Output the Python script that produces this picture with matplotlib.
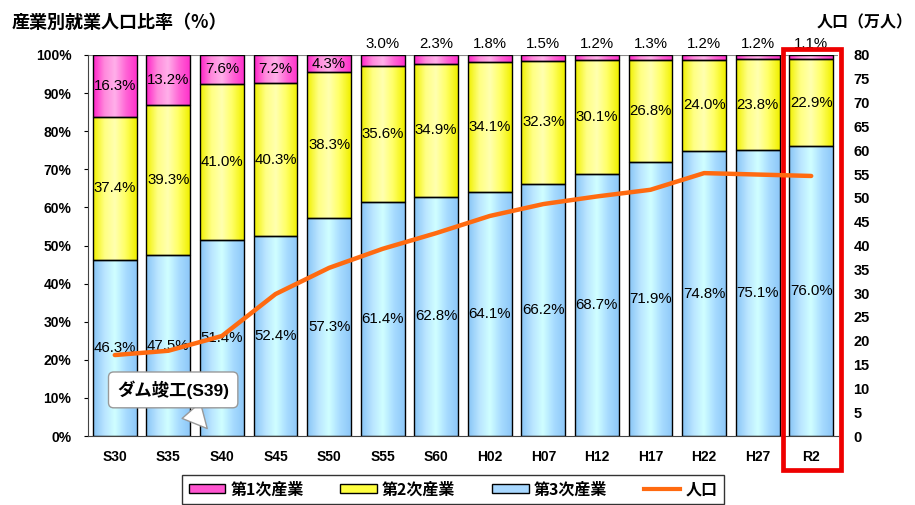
import numpy as np
import matplotlib
matplotlib.use("Agg")
import matplotlib.pyplot as plt
from matplotlib.patches import Rectangle, Patch
from matplotlib.lines import Line2D
from matplotlib.colors import LinearSegmentedColormap

plt.rcParams['font.family'] = ['Liberation Sans', 'Noto Sans CJK JP', 'DejaVu Sans']

years = ["S30", "S35", "S40", "S45", "S50", "S55", "S60", "H02", "H07", "H12", "H17", "H22", "H27", "R2"]
primary = [16.3, 13.2, 7.6, 7.2, 4.3, 3.0, 2.3, 1.8, 1.5, 1.2, 1.3, 1.2, 1.2, 1.1]
secondary = [37.4, 39.3, 41.0, 40.3, 38.3, 35.6, 34.9, 34.1, 32.3, 30.1, 26.8, 24.0, 23.8, 22.9]
tertiary = [46.3, 47.5, 51.4, 52.4, 57.3, 61.4, 62.8, 64.1, 66.2, 68.7, 71.9, 74.8, 75.1, 76.0]
population = [17.0, 17.9, 21.0, 29.8, 35.3, 39.3, 42.6, 46.2, 48.7, 50.3, 51.7, 55.2, 54.9, 54.6]

legend_labels = ["第1次産業", "第2次産業", "第3次産業", "人口"]

fig = plt.figure(figsize=(9.15, 5.05), dpi=100)
ax = fig.add_axes([88/915, 1-436/505, 750/915, 381/505])
ax2 = ax.twinx()

x = np.arange(len(years))
w = 0.82
p3 = np.array(tertiary)
p2 = np.array(secondary)
p1 = np.array(primary)

grad = {
    'p': (["#ff22c8", "#ff88dc", "#ffb0ea", "#ff66d6", "#ff33cc"]),
    'y': (["#f0f000", "#ffff80", "#ffffb0", "#ffff60", "#f0f000"]),
    'b': (["#88c4f6", "#b8e4ff", "#d0ffff", "#a8dcff", "#8ec8f8"]),
}
solid = {'p': "#ff55d0", 'y': "#ffff40", 'b': "#a8d8ff"}

def gbars(vals, bottom, key):
    bars = ax.bar(x, vals, w, bottom=bottom, facecolor='none', edgecolor='black', linewidth=1.0, zorder=3)
    cmap = LinearSegmentedColormap.from_list(key, grad[key])
    g = np.linspace(0, 1, 64).reshape(1, -1)
    for b in bars:
        x0, y0 = b.get_x(), b.get_y()
        im = ax.imshow(g, cmap=cmap, extent=[x0, x0 + b.get_width(), y0, y0 + b.get_height()],
                       aspect='auto', zorder=2, interpolation='bilinear')
        im.set_clip_path(b)
    return bars

gbars(p3, 0, 'b')
gbars(p2, p3, 'y')
gbars(p1, p3 + p2, 'p')

ax.set_xlim(-0.5, len(years) - 0.5)
ax.set_ylim(0, 100)
ax.set_aspect('auto')

fs = 10.8
for i in range(len(years)):
    ax.text(x[i], p3[i] / 2, f"{tertiary[i]:.1f}%", ha='center', va='center', fontsize=fs, zorder=5)
    ax.text(x[i], p3[i] + p2[i] / 2, f"{secondary[i]:.1f}%", ha='center', va='center', fontsize=fs, zorder=5)
    if primary[i] >= 4:
        ax.text(x[i], p3[i] + p2[i] + p1[i] / 2, f"{primary[i]:.1f}%", ha='center', va='center', fontsize=fs, zorder=5)
    else:
        ax.text(x[i], 102.8, f"{primary[i]:.1f}%", ha='center', va='center', fontsize=fs, zorder=5, clip_on=False)

ax.set_yticks(np.arange(0, 101, 10))
ax.set_yticklabels([f"{v}%" for v in range(0, 101, 10)], fontsize=10, fontweight='bold')
ax.set_xticks(x)
ax.set_xticklabels(years, fontsize=10, fontweight='bold')
ax.tick_params(axis='x', length=0, pad=10)
ax.tick_params(axis='y', length=3, direction='out', pad=9)
for s in ['top', 'right']:
    ax.spines[s].set_visible(False)
ax.spines['left'].set_color('#444444')
ax.spines['bottom'].set_color('#444444')
ax.axhline(100, color='#888888', lw=0.8, zorder=1)

ax2.plot(x, population, color='#ff6a10', lw=3.2, zorder=6, solid_capstyle='round')
ax2.set_ylim(0, 80)
ax2.set_yticks(np.arange(0, 81, 5))
ax2.set_yticklabels([str(v) for v in range(0, 81, 5)], fontsize=10.5, fontweight='bold')
ax2.tick_params(axis='y', length=0, pad=11)
for s in ['top', 'right', 'left', 'bottom']:
    ax2.spines[s].set_visible(False)

# red highlight box around R2
ax.add_patch(Rectangle((12.47, -8.9), 1.08, 110.5, fill=False, edgecolor='#ee0000', lw=3.4,
                       clip_on=False, zorder=7))

# callout
ax.annotate("ダム竣工(S39)", xy=(1.76, 1.4), xytext=(1.09, 12.1), ha='center', va='center',
            fontsize=12.5, fontweight='bold', zorder=8,
            bbox=dict(boxstyle='round,pad=0.5,rounding_size=0.3', fc='white', ec='#999999', lw=1),
            arrowprops=dict(arrowstyle='wedge,tail_width=1.4,shrink_factor=0.5', fc='white', ec='#999999', lw=1))

fig.text(12/915, 1-22/505, "産業別就業人口比率（%）", fontsize=13, fontweight='bold',
         family=['Noto Sans CJK JP', 'DejaVu Sans'], va='center', ha='left')
fig.text(913/915, 1-22/505, "人口（万人）", fontsize=11.5, fontweight='bold',
         family=['Noto Sans CJK JP', 'DejaVu Sans'], va='center', ha='right')

handles = [Patch(facecolor=solid['p'], edgecolor='black'),
           Patch(facecolor=solid['y'], edgecolor='black'),
           Patch(facecolor=solid['b'], edgecolor='black'),
           Line2D([0], [0], color='#ff6a10', lw=3)]
leg = fig.legend(handles, legend_labels, loc='upper center', bbox_to_anchor=(0.495, 1-475/505), ncol=4,
                 frameon=True, fancybox=False, edgecolor='black', borderaxespad=0,
                 prop={'family': ['Noto Sans CJK JP', 'DejaVu Sans'], 'weight': 'bold', 'size': 11.5},
                 handlelength=2.3, handleheight=0.45, columnspacing=2.3, handletextpad=0.3, borderpad=0.4)
leg.get_frame().set_linewidth(1.0)

fig.savefig("out.png", dpi=100)
